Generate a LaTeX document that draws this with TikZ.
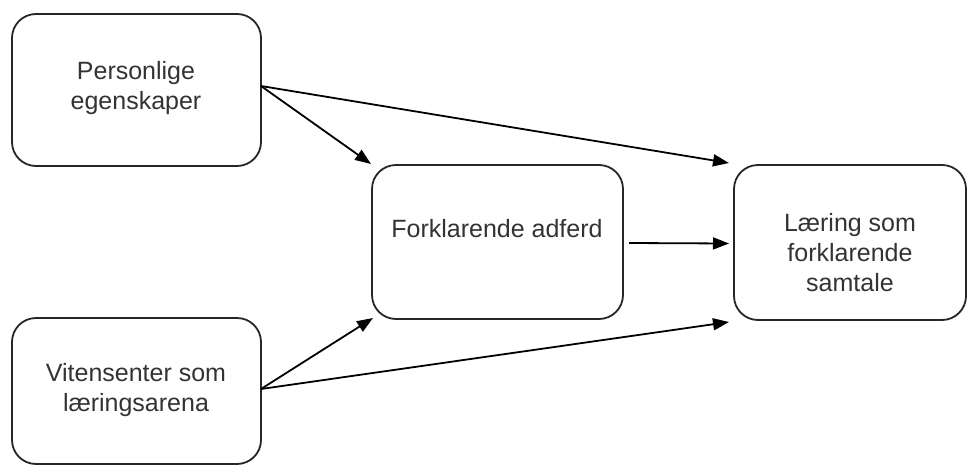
\documentclass[tikz,border=0pt]{standalone}
\usepackage{fontspec}
\setmainfont{Liberation Sans}
\usetikzlibrary{arrows.meta,calc}
\begin{document}
\begin{tikzpicture}[x=1pt,y=-1pt,
  box/.style={draw=black!85, line width=1.8pt, rounded corners=24pt, fill=white, inner sep=0pt, outer sep=0pt},
  lbl/.style={align=center, font=\fontsize{25}{30}\selectfont, text=black!80, inner sep=0pt},
  conn/.style={draw=black, line width=1.8pt, -{Triangle[length=16pt,width=12pt]}}]
\useasboundingbox (0,0) rectangle (970,466);
\fill[white] (0,0) rectangle (970,466);
% boxes
\node[box, minimum width=249pt, minimum height=152pt] (pb) at (136.5,90) {};
\node[box, minimum width=249pt, minimum height=146pt] (vb) at (136.5,391) {};
\node[box, minimum width=251pt, minimum height=154pt] (fb) at (497.5,242) {};
\node[box, minimum width=232pt, minimum height=155pt] (lb) at (850,242.5) {};
% labels
\node[lbl] (p) at (136,88) {Personlige\\egenskaper};
\node[lbl] (v) at (136,390) {Vitensenter som\\læringsarena};
\node[lbl] (f) at (497,229) {Forklarende adferd};
\node[lbl] (l) at (850,253) {Læring som\\forklarende\\samtale};
% connector end points on box edges
\coordinate (pOut) at ([yshift=4pt]pb.east);
\coordinate (vOut) at ([yshift=2pt]vb.east);
\coordinate (fIn1) at ([xshift=-1pt,yshift=1pt]fb.north west);
\coordinate (fIn2) at ([xshift=1pt,yshift=1pt]fb.south west);
\coordinate (fOut) at ([xshift=6pt,yshift=-1pt]fb.east);
\coordinate (lIn1) at ([xshift=-5pt,yshift=2pt]lb.north west);
\coordinate (lIn2) at ([xshift=-5pt,yshift=-1pt]lb.west);
\coordinate (lIn3) at ([xshift=-5pt,yshift=-2pt]lb.south west);
% connectors
\draw[conn] (pOut) -- (fIn1);
\draw[conn] (pOut) -- (lIn1);
\draw[conn] (vOut) -- (fIn2);
\draw[conn] (vOut) -- (lIn3);
\draw[conn] (fOut) -- (lIn2);
\end{tikzpicture}
\end{document}
